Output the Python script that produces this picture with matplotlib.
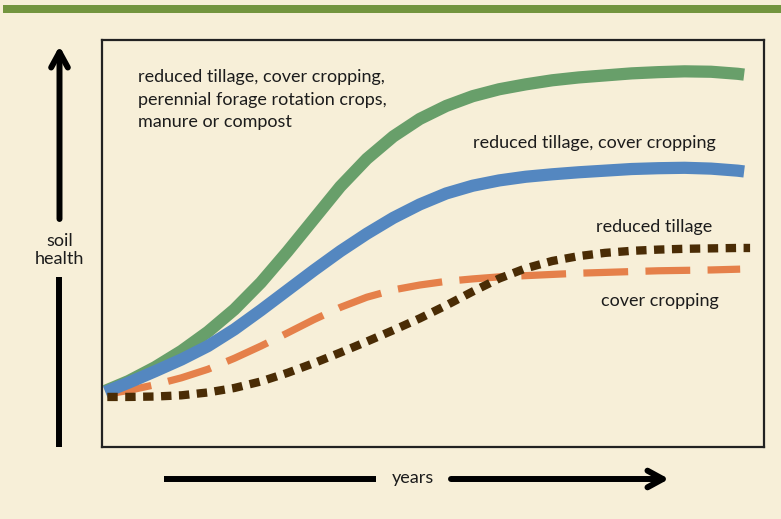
import matplotlib
matplotlib.use("Agg")
import matplotlib.pyplot as plt
from matplotlib.patches import Rectangle, FancyArrowPatch
from matplotlib.lines import Line2D

plt.rcParams['font.family'] = ['Lato', 'DejaVu Sans']

# soil health (0-100) against years (0-100)
years = [0.5, 4, 8, 12, 16, 20, 24, 28, 32, 36, 40, 44, 48, 52,
         56, 60, 64, 68, 72, 76, 80, 84, 88, 92, 96, 97]

all_practices = [13.8, 16.2, 19.6, 23.6, 28.3, 33.8, 40.4, 48.0, 56.0, 64.0,
                 70.8, 76.3, 80.6, 83.8, 86.2, 87.9, 89.1, 90.1, 90.8, 91.3,
                 91.8, 92.1, 92.3, 92.2, 91.7, 91.5]
tillage_cover = [13.5, 15.8, 18.6, 21.5, 24.8, 28.9, 33.6, 38.5, 43.4, 48.1,
                 52.4, 56.3, 59.6, 62.3, 64.2, 65.5, 66.4, 67.0, 67.5, 67.9,
                 68.3, 68.5, 68.6, 68.4, 67.9, 67.7]

years_cover = [0.8, 4, 8, 12, 16, 20, 24, 28, 32, 36, 40, 44, 48, 52,
               56, 60, 64, 68, 72, 76, 80, 84, 88, 92, 96.4]
cover_only = [13.0, 13.9, 15.3, 17.0, 19.1, 21.8, 24.8, 28.0, 31.3, 34.3,
              36.8, 38.6, 39.8, 40.7, 41.3, 41.8, 42.1, 42.4, 42.7, 42.9,
              43.1, 43.3, 43.4, 43.5, 43.7]

years_tillage = [0.8, 4, 8, 12, 16, 20, 24, 28, 32, 36, 40, 44, 48, 52,
                 56, 60, 64, 68, 72, 76, 80, 84, 88, 92, 96, 97.9]
tillage_only = [12.3, 12.3, 12.4, 12.7, 13.4, 14.5, 16.1, 18.2, 20.6, 23.2,
                25.9, 28.7, 31.6, 34.8, 38.2, 41.4, 43.9, 45.7, 46.9, 47.7,
                48.2, 48.5, 48.7, 48.8, 48.9, 48.9]

BG = '#F7EFD8'
INK = '#1c1c1c'
FS = 13

fig = plt.figure(figsize=(7.81, 5.19), dpi=100, facecolor=BG)

# green band across the top
fig.patches.append(Rectangle((3 / 781, 1 - 12.5 / 519), 778 / 781, 7.5 / 519,
                             transform=fig.transFigure, facecolor='#73953F',
                             edgecolor='none', zorder=0))

ax = fig.add_axes([102 / 781, 72 / 519, 662 / 781, 407 / 519])
ax.set_facecolor(BG)
ax.set_xlim(0, 100)
ax.set_ylim(0, 100)
ax.set_xticks([])
ax.set_yticks([])
for s in ax.spines.values():
    s.set_linewidth(1.6)
    s.set_color('#222222')

ax.plot(years, all_practices, color='#689F6A', lw=8.8,
        solid_capstyle='butt', solid_joinstyle='round', zorder=3)
ax.plot(years, tillage_cover, color='#5487C0', lw=8.8,
        solid_capstyle='butt', solid_joinstyle='round', zorder=4)
ax.plot(years_cover, cover_only, color='#E5804A', lw=5.2,
        dashes=(6.2, 2.4), dash_capstyle='butt', zorder=2)
ax.plot(years_tillage, tillage_only, color='#4A2C05', lw=6.0,
        dashes=(1.25, 0.9), dash_capstyle='butt', zorder=5)

ax.text(5.4, 85.3, 'reduced tillage, cover cropping,\nperennial forage rotation crops,\nmanure or compost',
        fontsize=FS, color=INK, ha='left', va='center', linespacing=1.5)
ax.text(56.1, 74.7, 'reduced tillage, cover cropping', fontsize=FS,
        color=INK, ha='left', va='center')
ax.text(74.6, 54.0, 'reduced tillage', fontsize=FS, color=INK,
        ha='left', va='center')
ax.text(75.4, 35.9, 'cover cropping', fontsize=FS, color=INK,
        ha='left', va='center')

# axis arrows outside the box, in figure pixels
def fig_px(x, y):
    return (x / 781, 1 - y / 519)

arrow_style = '->,head_length=0.55,head_width=0.3'

fig.add_artist(Line2D([59.5 / 781] * 2, [1 - 447 / 519, 1 - 277 / 519],
                      transform=fig.transFigure, color='black', lw=4.3,
                      solid_capstyle='butt'))
fig.add_artist(FancyArrowPatch(fig_px(59.5, 219), fig_px(59.5, 46),
                               transform=fig.transFigure, arrowstyle=arrow_style,
                               mutation_scale=20, color='black', lw=4.3,
                               shrinkA=0, shrinkB=0))
fig.text(59.5 / 781, 1 - 250 / 519, 'soil\nhealth', fontsize=FS, color=INK,
         ha='center', va='center', linespacing=1.15)

fig.add_artist(Line2D([164 / 781, 376 / 781], [1 - 479 / 519] * 2,
                      transform=fig.transFigure, color='black', lw=4.3,
                      solid_capstyle='butt'))
fig.add_artist(FancyArrowPatch(fig_px(451, 479), fig_px(669, 479),
                               transform=fig.transFigure, arrowstyle=arrow_style,
                               mutation_scale=20, color='black', lw=4.3,
                               shrinkA=0, shrinkB=0))
fig.text(413 / 781, 1 - 478 / 519, 'years', fontsize=FS, color=INK,
         ha='center', va='center')

fig.savefig('out.png', dpi=100, facecolor=BG)
